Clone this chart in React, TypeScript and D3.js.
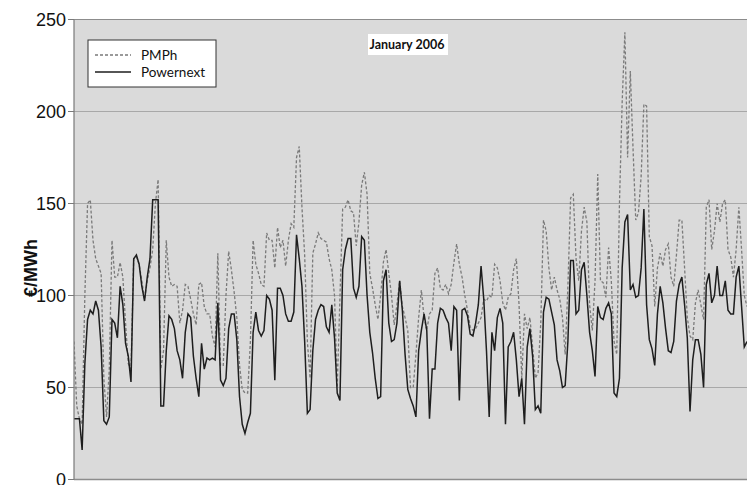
import React from 'react';
import * as d3 from 'd3';

// Hourly prices, January 2006, sampled every 3 hours (€/MWh)
const PMPH: number[] = [
  75, 40, 33, 30, 100, 150, 152, 130, 120, 116, 112, 55, 34, 60, 130, 110, 110, 118, 110, 85,
  63, 60, 120, 121, 117, 108, 98, 108, 115, 125, 150, 163, 60, 70, 130, 110, 105, 106, 105, 85,
  92, 106, 105, 98, 90, 84, 106, 107, 94, 90, 90, 78, 72, 123, 62, 62, 100, 124, 114, 102,
  88, 62, 49, 47, 47, 75, 130, 117, 112, 106, 105, 134, 130, 130, 115, 137, 126, 130, 116, 130,
  139, 137, 175, 181, 148, 122, 75, 55, 123, 128, 134, 131, 130, 129, 120, 114, 100, 50, 99, 147,
  148, 152, 146, 145, 127, 140, 160, 167, 155, 112, 104, 95, 87, 100, 118, 125, 112, 100, 84, 95,
  108, 94, 88, 81, 50, 50, 68, 88, 103, 88, 81, 90, 92, 112, 115, 104, 103, 106, 101, 106,
  118, 128, 117, 110, 100, 92, 83, 81, 82, 85, 88, 98, 97, 100, 99, 117, 115, 108, 96, 92,
  99, 101, 114, 120, 95, 55, 90, 82, 88, 72, 55, 58, 85, 141, 135, 115, 103, 110, 103, 98,
  88, 68, 105, 153, 155, 120, 108, 135, 148, 140, 95, 81, 108, 166, 108, 107, 99, 126, 108, 75,
  68, 150, 205, 243, 175, 222, 180, 141, 145, 165, 204, 203, 132, 127, 94, 115, 123, 116, 125, 128,
  110, 105, 122, 141, 141, 115, 88, 78, 76, 96, 103, 95, 87, 148, 152, 125, 135, 150, 140, 150,
  152, 125, 121, 110, 125, 148, 125, 100, 94,
];

const POWERNEXT: number[] = [
  33, 33, 33, 16, 63, 87, 92, 90, 97, 92, 72, 32, 30, 34, 87, 85, 77, 105, 95, 74,
  67, 53, 120, 122, 117, 105, 97, 110, 120, 152, 152, 152, 40, 40, 70, 89, 87, 82, 70, 65,
  55, 80, 90, 88, 67, 55, 45, 74, 60, 66, 65, 66, 65, 96, 54, 51, 55, 82, 90, 90,
  76, 45, 30, 25, 31, 36, 80, 91, 81, 78, 81, 100, 98, 92, 54, 104, 104, 100, 90, 86,
  86, 91, 133, 120, 105, 75, 36, 38, 70, 87, 92, 95, 94, 83, 80, 95, 77, 47, 43, 114,
  125, 131, 131, 104, 99, 105, 132, 130, 100, 80, 69, 55, 44, 45, 108, 114, 85, 75, 76, 85,
  108, 92, 68, 49, 44, 40, 34, 70, 81, 90, 81, 33, 60, 60, 85, 93, 92, 88, 85, 70,
  94, 92, 43, 92, 93, 89, 79, 78, 85, 95, 116, 98, 70, 34, 80, 70, 88, 93, 85, 30,
  72, 75, 80, 65, 45, 55, 30, 72, 82, 67, 38, 40, 36, 91, 99, 98, 91, 84, 65, 59,
  50, 51, 75, 119, 119, 90, 92, 114, 118, 100, 80, 70, 56, 94, 88, 87, 93, 96, 90, 47,
  45, 55, 115, 140, 144, 103, 106, 99, 100, 115, 147, 95, 76, 71, 62, 90, 105, 96, 82, 70,
  69, 75, 97, 106, 110, 95, 77, 37, 65, 76, 76, 68, 50, 106, 112, 96, 100, 116, 100, 100,
  108, 92, 90, 90, 110, 116, 94, 72, 75,
];

const Y_TICKS = [0, 50, 100, 150, 200, 250];
const SERIES_NAMES = ['PMPh', 'Powernext'];
const TITLE = 'January 2006';
const Y_LABEL = '€/MWh';

export default function App() {
  const W = 747;
  const H = 485;
  const left = 74;
  const right = 747;
  const top = 19.5;
  const bottom = 479.5;

  const x = d3.scaleLinear().domain([0, PMPH.length - 1]).range([left, right]);
  const y = d3.scaleLinear().domain([0, 250]).range([bottom, top]);
  const line = d3
    .line<number>()
    .x((_, i) => x(i))
    .y((d) => y(d));

  return (
    <svg
      width={W}
      height={H}
      style={{ position: 'absolute', left: 0, top: 0, background: '#ffffff' }}
    >
      <defs>
        <clipPath id="plotclip">
          <rect x={left} y={0} width={right - left} height={bottom} />
        </clipPath>
      </defs>
      <rect x={left} y={top} width={W - left} height={bottom - top} fill="#dadada" />
      {Y_TICKS.map((t) => (
        <line
          key={t}
          x1={left}
          x2={W}
          y1={y(t)}
          y2={y(t)}
          stroke={t === 250 || t === 0 ? '#8c8c8c' : '#a8a8a8'}
          strokeWidth={t === 0 ? 1.5 : 1}
        />
      ))}
      <rect x={368} y={34} width={80} height={21} fill="#ffffff" />
      <text
        x={407}
        y={49}
        textAnchor="middle"
        fontFamily="Lato, 'Open Sans', sans-serif"
        fontWeight="bold"
        fontSize={12.5}
        fill="#111"
      >
        {TITLE}
      </text>
      <g clipPath="url(#plotclip)">
        <path
          d={line(PMPH) || ''}
          fill="none"
          stroke="#7a7a7a"
          strokeWidth={1.3}
          strokeDasharray="3,2"
        />
        <path d={line(POWERNEXT) || ''} fill="none" stroke="#1e1e1e" strokeWidth={1.5} />
      </g>
      <line x1={left} x2={left} y1={top} y2={bottom} stroke="#7a7a7a" strokeWidth={1.2} />
      {Y_TICKS.map((t) => (
        <g key={'t' + t}>
          <line x1={left - 6} x2={left} y1={y(t)} y2={y(t)} stroke="#7a7a7a" />
          <text
            x={66}
            y={y(t) + 6.5}
            textAnchor="end"
            fontFamily="'Liberation Sans', Arial, sans-serif"
            fontSize={18}
            fill="#111"
          >
            {t}
          </text>
        </g>
      ))}
      <text
        transform={`translate(37, 268) rotate(-90)`}
        textAnchor="middle"
        fontFamily="'Liberation Sans', Arial, sans-serif"
        fontWeight="bold"
        fontSize={18}
        fill="#111"
      >
        {Y_LABEL}
      </text>
      <rect x={88} y={40} width={128} height={47} fill="#ffffff" stroke="#333" strokeWidth={1} />
      <line x1={95} x2={131} y1={55} y2={55} stroke="#7a7a7a" strokeWidth={1.3} strokeDasharray="3,2" />
      <line x1={95} x2={131} y1={72} y2={72} stroke="#1e1e1e" strokeWidth={1.5} />
      <text x={141} y={60} fontFamily="Lato, 'Open Sans', sans-serif" fontSize={13.5} fill="#111">
        {SERIES_NAMES[0]}
      </text>
      <text x={141} y={77} fontFamily="Lato, 'Open Sans', sans-serif" fontSize={13.5} fill="#111">
        {SERIES_NAMES[1]}
      </text>
    </svg>
  );
}
